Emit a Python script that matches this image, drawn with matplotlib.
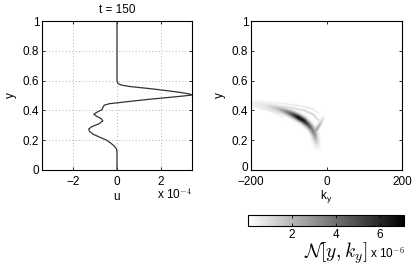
import numpy as np
import matplotlib
matplotlib.use("Agg")
import matplotlib.pyplot as plt
import matplotlib.transforms as mtransforms

plt.rcParams['font.family'] = ['Liberation Sans', 'DejaVu Sans']
plt.rcParams['mathtext.fontset'] = 'cm'

# ---- left panel: velocity profile u(y) (units of 1e-4) ----
y_prof = [0.00, 0.12, 0.14, 0.16, 0.18, 0.20, 0.22, 0.24, 0.26, 0.275, 0.29, 0.31,
          0.33, 0.345, 0.36, 0.375, 0.39, 0.405, 0.42, 0.435, 0.445, 0.455, 0.465,
          0.475, 0.485, 0.495, 0.503, 0.51, 0.52, 0.53, 0.54, 0.55, 0.56, 0.57,
          0.58, 0.60, 1.00]
u_prof = [0.0, 0.0, -0.02, -0.12, -0.28, -0.47, -0.78, -1.08, -1.25, -1.28, -1.15, -0.82,
          -0.64, -0.72, -0.92, -1.05, -0.88, -0.68, -0.64, -0.58, -0.35, 0.25, 0.85,
          1.5, 2.2, 2.9, 3.4, 3.3, 2.9, 2.4, 1.85, 1.25, 0.6, 0.2,
          0.05, 0.0, 0.0]
u_ticks = [-2, 0, 2]
y_ticks = [0, 0.2, 0.4, 0.6, 0.8, 1.0]
y_ticklabels = ['0', '0.2', '0.4', '0.6', '0.8', '1']
ky_ticks = [-200, 0, 200]
cb_ticks = [2, 4, 6]

# ---- right panel: ridges of N[y, ky] (ky, y, amplitude x1e-6) ----
ridge_main_ky = [-200, -160, -130, -108, -90, -75, -62, -50, -40, -33, -29, -26]
ridge_main_y = [0.445, 0.43, 0.412, 0.392, 0.372, 0.352, 0.332, 0.305, 0.275, 0.24, 0.2, 0.16]
ridge_main_a = [0.3, 0.8, 1.8, 3.3, 5.2, 7.0, 6.6, 5.0, 3.8, 3.0, 1.8, 0.6]
ridge_hook_ky = [-38, -28, -18, -10]
ridge_hook_y = [0.245, 0.27, 0.31, 0.35]
ridge_hook_a = [3.0, 2.8, 1.9, 0.6]
ridge_up1_ky = [-200, -150, -100, -60, -35, -22]
ridge_up1_y = [0.455, 0.44, 0.42, 0.40, 0.37, 0.33]
ridge_up1_a = [0.5, 0.8, 1.1, 1.4, 1.6, 1.0]
ridge_up2_ky = [-190, -120, -70, -40, -22]
ridge_up2_y = [0.462, 0.448, 0.43, 0.412, 0.382]
ridge_up2_a = [0.4, 0.6, 0.8, 0.9, 0.5]
ridge_lo1_ky = [-200, -150, -115, -92]
ridge_lo1_y = [0.432, 0.405, 0.375, 0.345]
ridge_lo1_a = [0.5, 1.0, 1.2, 0.7]
ridge_lo2_ky = [-185, -145, -115]
ridge_lo2_y = [0.42, 0.39, 0.355]
ridge_lo2_a = [0.4, 0.7, 0.6]

ridges = [
    (ridge_main_ky, ridge_main_y, ridge_main_a, 0.020),
    (ridge_hook_ky, ridge_hook_y, ridge_hook_a, 0.011),
    (ridge_up1_ky, ridge_up1_y, ridge_up1_a, 0.006),
    (ridge_up2_ky, ridge_up2_y, ridge_up2_a, 0.005),
    (ridge_lo1_ky, ridge_lo1_y, ridge_lo1_a, 0.006),
    (ridge_lo2_ky, ridge_lo2_y, ridge_lo2_a, 0.005),
]

KY, YY = np.meshgrid(np.linspace(-200, 200, 500), np.linspace(0, 1, 400))
X = KY / 400.0
field = np.zeros_like(KY)
for kys, ys, amps, w in ridges:
    px = np.array(kys) / 400.0
    py = np.array(ys)
    pa = np.array(amps)
    best_d = np.full(KY.shape, np.inf)
    best_a = np.zeros(KY.shape)
    for i in range(len(px) - 1):
        dx, dy = px[i + 1] - px[i], py[i + 1] - py[i]
        t = ((X - px[i]) * dx + (YY - py[i]) * dy) / (dx * dx + dy * dy)
        t = np.clip(t, 0, 1)
        d = np.hypot(X - (px[i] + t * dx), YY - (py[i] + t * dy))
        a = pa[i] + t * (pa[i + 1] - pa[i])
        m = d < best_d
        best_d[m] = d[m]
        best_a[m] = a[m]
    field = np.maximum(field, best_a * np.exp(-(best_d / w) ** 2))

fig = plt.figure(figsize=(4.15, 2.67), dpi=100)
fs = 8.5

ax1 = fig.add_axes([0.1012, 0.3633, 0.3614, 0.558])
ax1.plot(u_prof, y_prof, color='#333333', lw=0.9)
ax1.set_xlim(-3.4, 3.4)
ax1.set_ylim(0, 1)
ax1.set_xticks(u_ticks)
ax1.set_xticklabels(['\u22122', '0', '2'])
ax1.set_yticks(y_ticks)
ax1.set_yticklabels(y_ticklabels)
ax1.grid(True, linestyle=(0, (1, 3)), color='#999999', lw=0.6)
ax1.set_xlabel('u', fontsize=fs, labelpad=2)
ax1.set_ylabel('y', fontsize=fs, labelpad=4)
ax1.set_title('t = 150', fontsize=fs, pad=6)
fig.text(192 / 415, 1 - 199 / 267, 'x 10$^{-4}$', ha='right', va='baseline', fontsize=fs)

ax2 = fig.add_axes([0.6048, 0.3633, 0.3639, 0.558])
im = ax2.imshow(field, extent=[-200, 200, 0, 1], origin='lower', aspect='auto',
                cmap='gray_r', vmin=0, vmax=7.1, interpolation='bilinear')
ax2.set_xlim(-200, 200)
ax2.set_ylim(0, 1)
ax2.set_xticks(ky_ticks)
ax2.set_xticklabels(['\u2212200', '0', '200'])
ax2.set_yticks(y_ticks)
ax2.set_yticklabels(y_ticklabels)
ax2.set_xlabel('k$_\\mathregular{y}$', fontsize=fs, labelpad=0)
ax2.set_ylabel('y', fontsize=fs, labelpad=4)

for ax in (ax1, ax2):
    ax.tick_params(direction='in', top=True, right=True, labelsize=fs, length=2.5,
                   width=0.6, pad=2)
    ax.tick_params(axis='x', pad=4.5)
    for s in ax.spines.values():
        s.set_linewidth(0.8)

# lift the lowest y label of the right panel slightly so it clears "-200"
lbl0 = ax2.get_yticklabels()[0]
lbl0.set_transform(lbl0.get_transform() +
                   mtransforms.ScaledTranslation(0, 2.5 / 72, fig.dpi_scale_trans))

cax = fig.add_axes([0.5976, 0.1536, 0.3759, 0.0412])
cb = fig.colorbar(im, cax=cax, orientation='horizontal')
cb.set_ticks(cb_ticks)
cax.tick_params(direction='in', labelsize=fs, length=2, width=0.6, pad=2, top=True)
cb.outline.set_linewidth(0.8)
fig.text(367 / 415, 1 - 258 / 267, r'$\mathcal{N}[y,k_y]$', fontsize=14, ha='right',
         va='baseline')
fig.text(370 / 415, 1 - 258 / 267, 'x 10$^{-6}$', fontsize=fs, ha='left', va='baseline')

fig.savefig('out.png', dpi=100)
